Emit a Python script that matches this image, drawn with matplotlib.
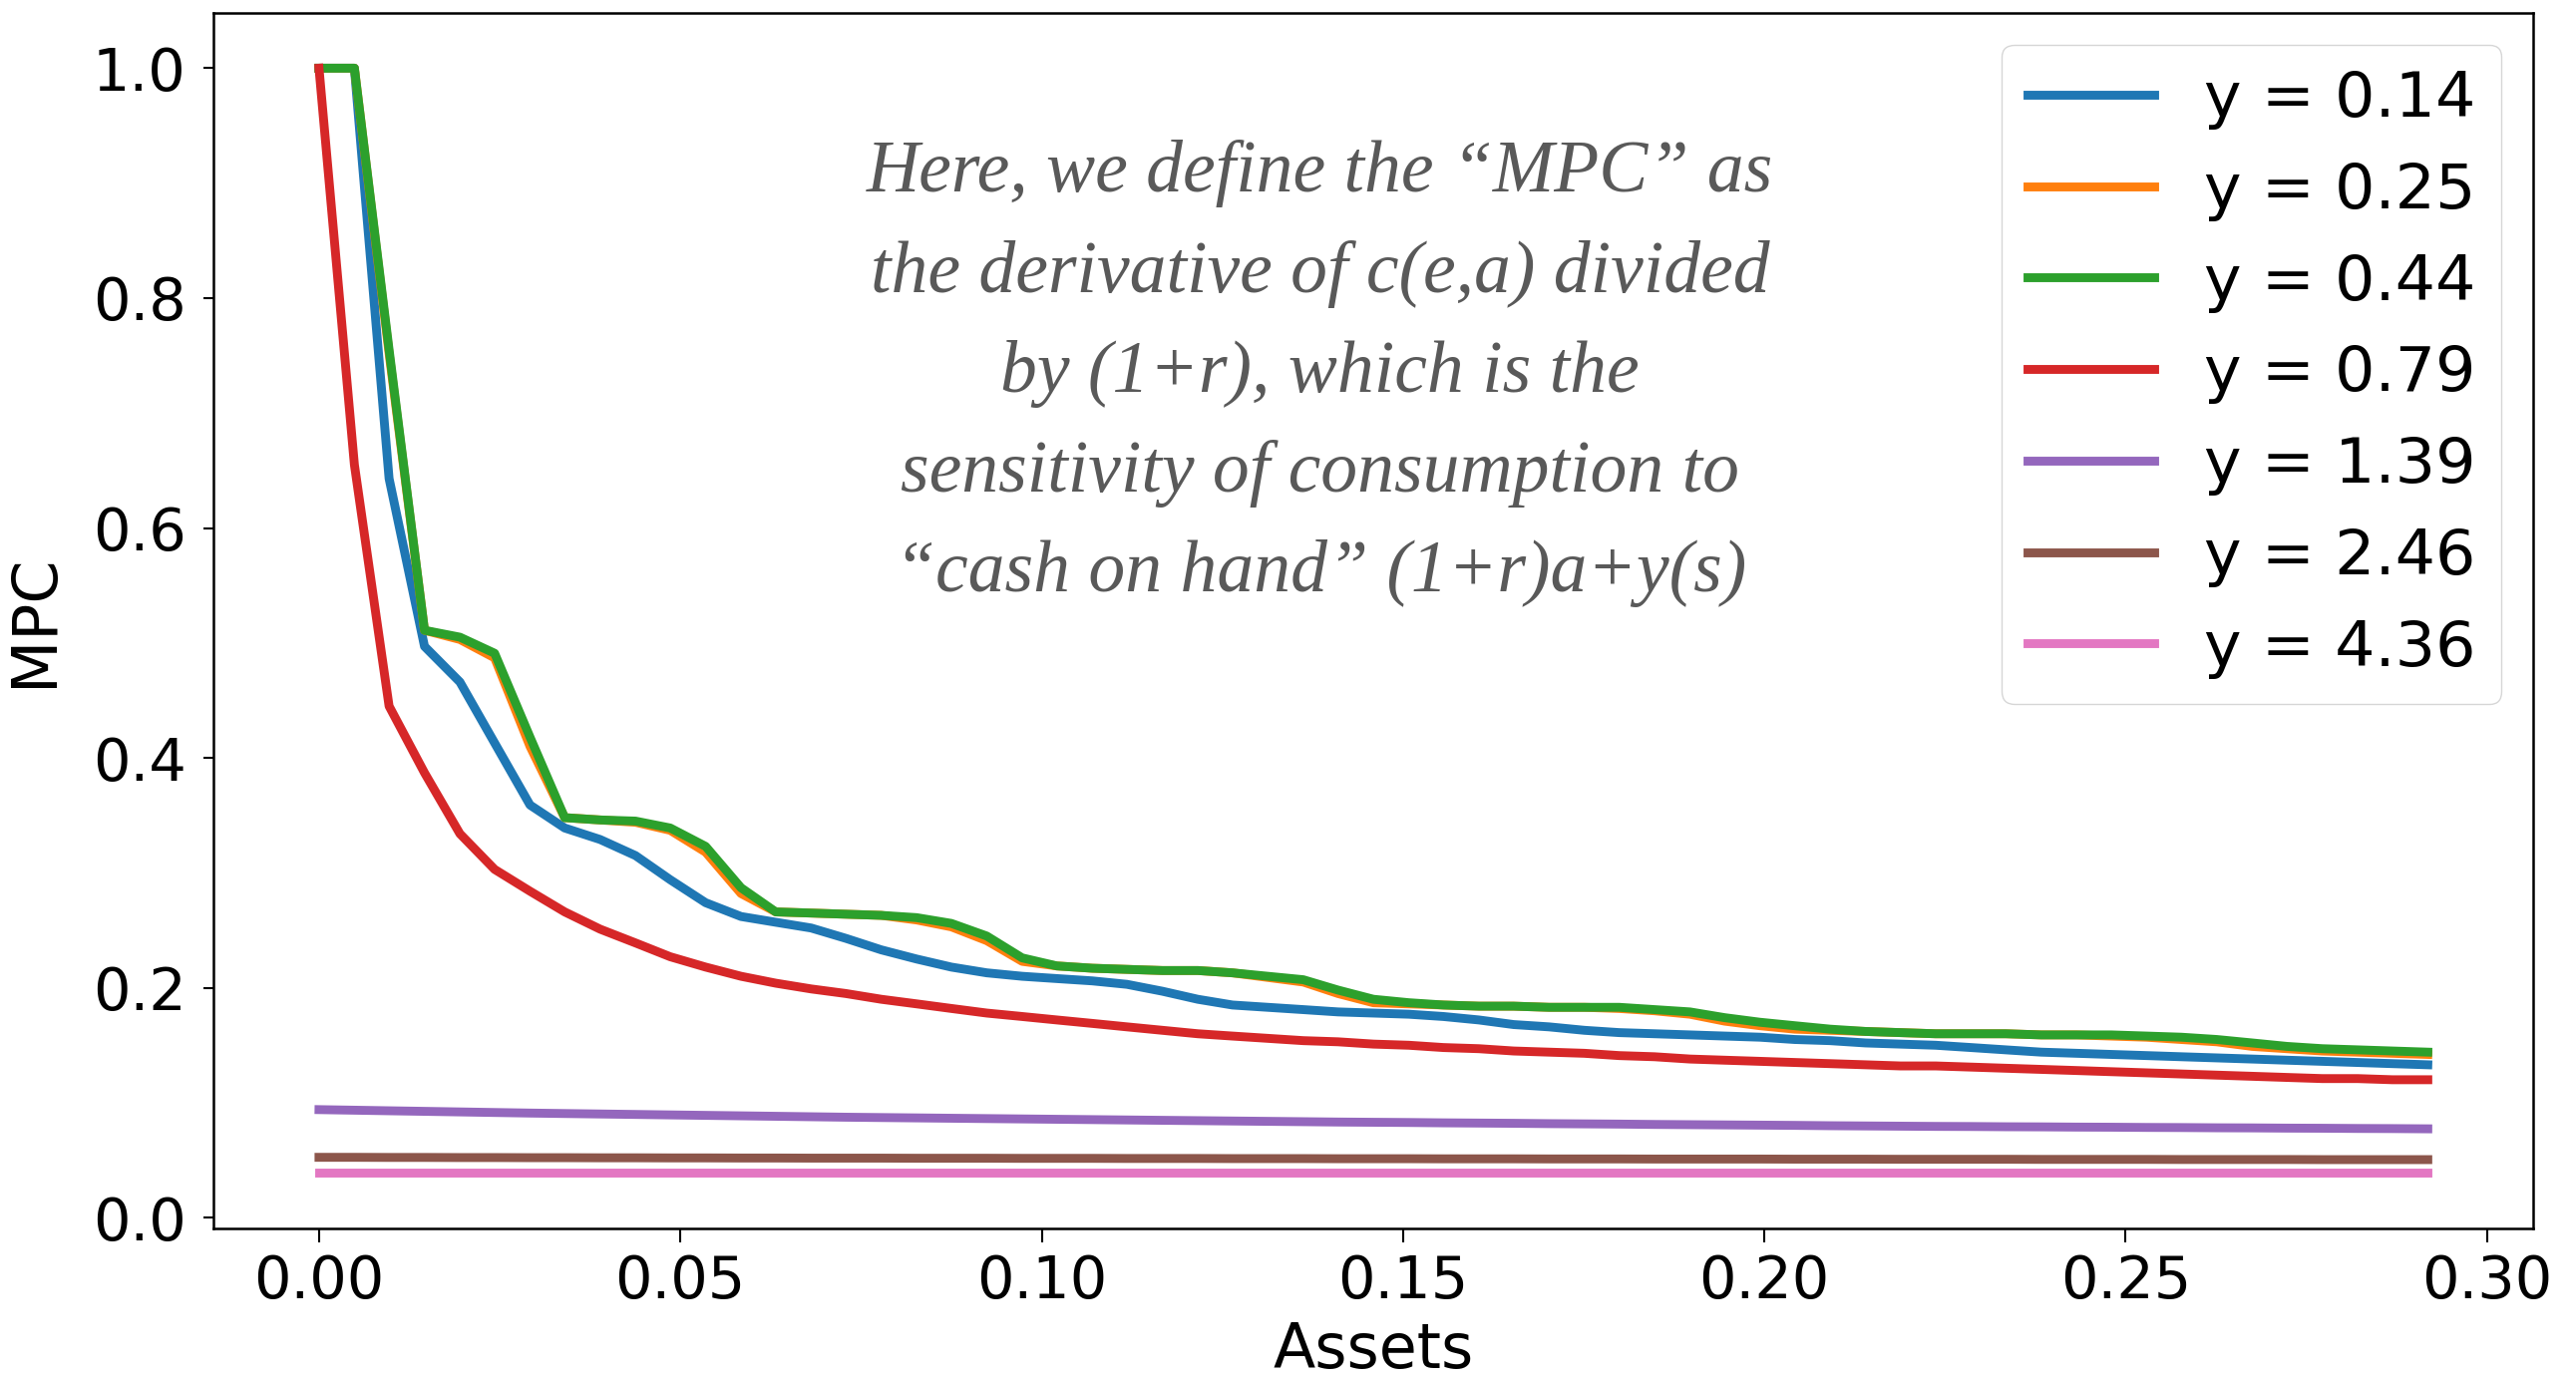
import matplotlib.pyplot as plt

# asset grid
assets = [0.0, 0.0049, 0.0097, 0.0146, 0.0195, 0.0243, 0.0292, 0.0340, 0.0389, 0.0438,
          0.0486, 0.0535, 0.0584, 0.0632, 0.0681, 0.0729, 0.0778, 0.0827, 0.0875, 0.0924,
          0.0973, 0.1021, 0.1070, 0.1118, 0.1167, 0.1216, 0.1264, 0.1313, 0.1362, 0.1410,
          0.1459, 0.1508, 0.1556, 0.1605, 0.1653, 0.1702, 0.1751, 0.1799, 0.1848, 0.1897,
          0.1945, 0.1994, 0.2042, 0.2091, 0.2140, 0.2188, 0.2237, 0.2286, 0.2334, 0.2383,
          0.2432, 0.2480, 0.2529, 0.2577, 0.2626, 0.2675, 0.2723, 0.2772, 0.2821, 0.2869,
          0.2918]

income_labels = ["y = 0.14", "y = 0.25", "y = 0.44", "y = 0.79", "y = 1.39", "y = 2.46", "y = 4.36"]

#MPC by income state
mpc_014 = [1.000, 1.000, 0.643, 0.497, 0.466, 0.413, 0.359, 0.339, 0.329, 0.315,
           0.294, 0.274, 0.262, 0.257, 0.252, 0.243, 0.233, 0.225, 0.218, 0.213,
           0.210, 0.208, 0.206, 0.203, 0.197, 0.190, 0.185, 0.183, 0.181, 0.179,
           0.178, 0.177, 0.175, 0.172, 0.168, 0.166, 0.163, 0.161, 0.160, 0.159,
           0.158, 0.157, 0.155, 0.154, 0.152, 0.151, 0.150, 0.148, 0.146, 0.144,
           0.143, 0.142, 0.141, 0.140, 0.139, 0.138, 0.137, 0.136, 0.135, 0.134,
           0.133]
mpc_025 = [1.000, 1.000, 0.752, 0.511, 0.503, 0.487, 0.410, 0.348, 0.346, 0.344,
           0.337, 0.318, 0.282, 0.266, 0.265, 0.264, 0.263, 0.259, 0.253, 0.241,
           0.223, 0.219, 0.217, 0.216, 0.215, 0.215, 0.213, 0.209, 0.205, 0.195,
           0.187, 0.186, 0.185, 0.184, 0.184, 0.183, 0.183, 0.182, 0.180, 0.177,
           0.171, 0.167, 0.164, 0.163, 0.162, 0.161, 0.160, 0.160, 0.160, 0.159,
           0.159, 0.158, 0.157, 0.155, 0.153, 0.149, 0.147, 0.145, 0.144, 0.143,
           0.142]
mpc_044 = [1.000, 1.000, 0.755, 0.511, 0.505, 0.491, 0.418, 0.348, 0.346, 0.345,
           0.339, 0.323, 0.287, 0.266, 0.265, 0.264, 0.263, 0.261, 0.256, 0.245,
           0.226, 0.219, 0.217, 0.216, 0.215, 0.215, 0.213, 0.210, 0.207, 0.198,
           0.190, 0.187, 0.185, 0.184, 0.184, 0.183, 0.183, 0.183, 0.181, 0.179,
           0.174, 0.170, 0.167, 0.164, 0.162, 0.161, 0.160, 0.160, 0.160, 0.159,
           0.159, 0.159, 0.158, 0.157, 0.155, 0.152, 0.149, 0.147, 0.146, 0.145,
           0.144]
mpc_079 = [1.000, 0.655, 0.445, 0.387, 0.334, 0.303, 0.284, 0.266, 0.251, 0.239,
           0.227, 0.218, 0.210, 0.204, 0.199, 0.195, 0.190, 0.186, 0.182, 0.178,
           0.175, 0.172, 0.169, 0.166, 0.163, 0.160, 0.158, 0.156, 0.154, 0.153,
           0.151, 0.150, 0.148, 0.147, 0.145, 0.144, 0.143, 0.141, 0.140, 0.138,
           0.137, 0.136, 0.135, 0.134, 0.133, 0.132, 0.132, 0.131, 0.130, 0.129,
           0.128, 0.127, 0.126, 0.125, 0.124, 0.123, 0.122, 0.121, 0.121, 0.120,
           0.120]
mpc_139 = [0.0940, 0.0935, 0.0930, 0.0925, 0.0920, 0.0915, 0.0910, 0.0906, 0.0902, 0.0898,
           0.0894, 0.0890, 0.0886, 0.0882, 0.0878, 0.0874, 0.0871, 0.0868, 0.0865, 0.0862,
           0.0859, 0.0856, 0.0853, 0.0850, 0.0847, 0.0844, 0.0841, 0.0838, 0.0835, 0.0832,
           0.0830, 0.0828, 0.0825, 0.0823, 0.0821, 0.0818, 0.0816, 0.0814, 0.0811, 0.0809,
           0.0807, 0.0805, 0.0803, 0.0800, 0.0798, 0.0796, 0.0794, 0.0793, 0.0791, 0.0790,
           0.0788, 0.0787, 0.0785, 0.0784, 0.0782, 0.0781, 0.0779, 0.0778, 0.0776, 0.0775,
           0.0773]
mpc_246 = [0.0525, 0.0525, 0.0524, 0.0524, 0.0523, 0.0523, 0.0522, 0.0522, 0.0521, 0.0521,
           0.0520, 0.0520, 0.0519, 0.0519, 0.0518, 0.0518, 0.0518, 0.0517, 0.0517, 0.0517,
           0.0516, 0.0516, 0.0516, 0.0515, 0.0515, 0.0515, 0.0514, 0.0514, 0.0514, 0.0513,
           0.0513, 0.0513, 0.0512, 0.0512, 0.0512, 0.0511, 0.0511, 0.0511, 0.0510, 0.0510,
           0.0510, 0.0510, 0.0509, 0.0509, 0.0509, 0.0508, 0.0508, 0.0508, 0.0508, 0.0507,
           0.0507, 0.0507, 0.0507, 0.0506, 0.0506, 0.0506, 0.0506, 0.0505, 0.0505, 0.0505,
           0.0505]
mpc_436 = [0.039, 0.039, 0.039, 0.039, 0.039, 0.039, 0.039, 0.039, 0.039, 0.039,
           0.039, 0.039, 0.039, 0.039, 0.039, 0.039, 0.039, 0.039, 0.039, 0.039,
           0.039, 0.039, 0.039, 0.039, 0.039, 0.039, 0.039, 0.039, 0.039, 0.039,
           0.039, 0.039, 0.039, 0.039, 0.039, 0.039, 0.039, 0.039, 0.039, 0.039,
           0.039, 0.039, 0.039, 0.039, 0.039, 0.039, 0.039, 0.039, 0.039, 0.039,
           0.039, 0.039, 0.039, 0.039, 0.039, 0.039, 0.039, 0.039, 0.039, 0.039,
           0.039]

note = ("Here, we define the \u201cMPC\u201d as\n"
        "the derivative of c(e,a) divided\n"
        "by (1+r), which is the\n"
        "sensitivity of consumption to\n"
        "\u201ccash on hand\u201d (1+r)a+y(s)")

fig = plt.figure(figsize=(25.83, 13.82), dpi=100)
ax = fig.add_axes([0.0829, 0.1088, 0.9005, 0.8818])

series = [mpc_014, mpc_025, mpc_044, mpc_079, mpc_139, mpc_246, mpc_436]
for values, label in zip(series, income_labels):
    ax.plot(assets, values, label=label, linewidth=6.4)

ax.set_xlabel("Assets", fontsize=44.5, labelpad=8)
ax.set_ylabel("MPC", fontsize=44.5, labelpad=20)
ax.tick_params(axis="x", labelsize=42.5, length=10, width=1.5, pad=8.5)
ax.tick_params(axis="y", labelsize=42.5, length=7.2, width=1.5, pad=12.5)
for spine in ax.spines.values():
    spine.set_linewidth(1.8)

ax.legend(loc="upper right", fontsize=45.7)

ax.text(0.477, 0.703, note, transform=ax.transAxes, ha="center", va="center",
        multialignment="center", fontsize=53, fontstyle="italic",
        family="Liberation Serif", color="#595959", linespacing=1.62)

fig.savefig("out.png", dpi=100)
